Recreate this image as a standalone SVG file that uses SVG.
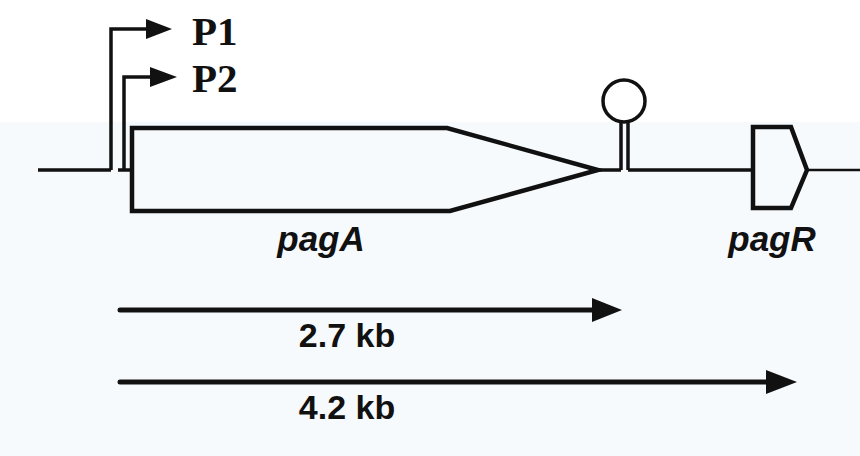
<svg xmlns="http://www.w3.org/2000/svg" width="860" height="456" viewBox="0 0 860 456">
<defs>
<style>
.ln{fill:none;stroke:#111;stroke-width:3.5;stroke-linejoin:miter}
.box{fill:none;stroke:#111;stroke-width:4.5;stroke-linejoin:miter}
.ah{fill:#111}
.pl{font-family:"Liberation Serif",serif;font-weight:bold;font-size:41px;fill:#111}
.gl{font-family:"Liberation Sans",Arial,sans-serif;font-weight:bold;font-style:italic;font-size:35px;fill:#111}
.kb{font-family:"Liberation Sans",Arial,sans-serif;font-weight:bold;font-size:34px;fill:#111}
</style>
</defs>
<rect x="0" y="0" width="860" height="456" fill="#f6fafd"/>
<rect x="0" y="0" width="860" height="122" fill="#ffffff"/>
<g id="connectors">
<path class="ln" d="M38,170 H111 M118,170 H132"/>
<path class="ln" d="M598,170 H621 M628,170 H753"/>
<path class="ln" d="M807,170 H860" style="stroke-width:2.5"/>
</g>
<g id="P1">
<path class="ln" d="M111,170 V29 H148"/>
<polygon class="ah" points="146,19 172,29 146,39"/>
<text class="pl" x="192" y="45">P1</text>
</g>
<g id="P2">
<path class="ln" d="M124,170 V77 H152"/>
<polygon class="ah" points="150,67 177,77 150,87"/>
<text class="pl" x="192" y="92">P2</text>
</g>
<g id="pagA">
<path class="box" d="M132,128 H447 L598,170 L450,211 H132 Z"/>
<text class="gl" x="321" y="251" text-anchor="middle">pagA</text>
</g>
<g id="terminator">
<path class="ln" d="M621,170 V121 M628,170 V121"/>
<ellipse cx="624" cy="101" rx="21" ry="21" class="ln"/>
</g>
<g id="pagR">
<path class="box" d="M753,127 H791 L807,170 L791,208 H753 Z"/>
<text class="gl" x="772" y="251" text-anchor="middle">pagR</text>
</g>
<g id="t27">
<path class="ln" d="M120,310 H596" style="stroke-width:5;stroke-linecap:round"/>
<polygon class="ah" points="592,298 622,310 592,322"/>
<text class="kb" x="347" y="347" text-anchor="middle">2.7 kb</text>
</g>
<g id="t42">
<path class="ln" d="M120,382 H770" style="stroke-width:5;stroke-linecap:round"/>
<polygon class="ah" points="766,370 797,382 766,394"/>
<text class="kb" x="347" y="419" text-anchor="middle">4.2 kb</text>
</g>
</svg>
